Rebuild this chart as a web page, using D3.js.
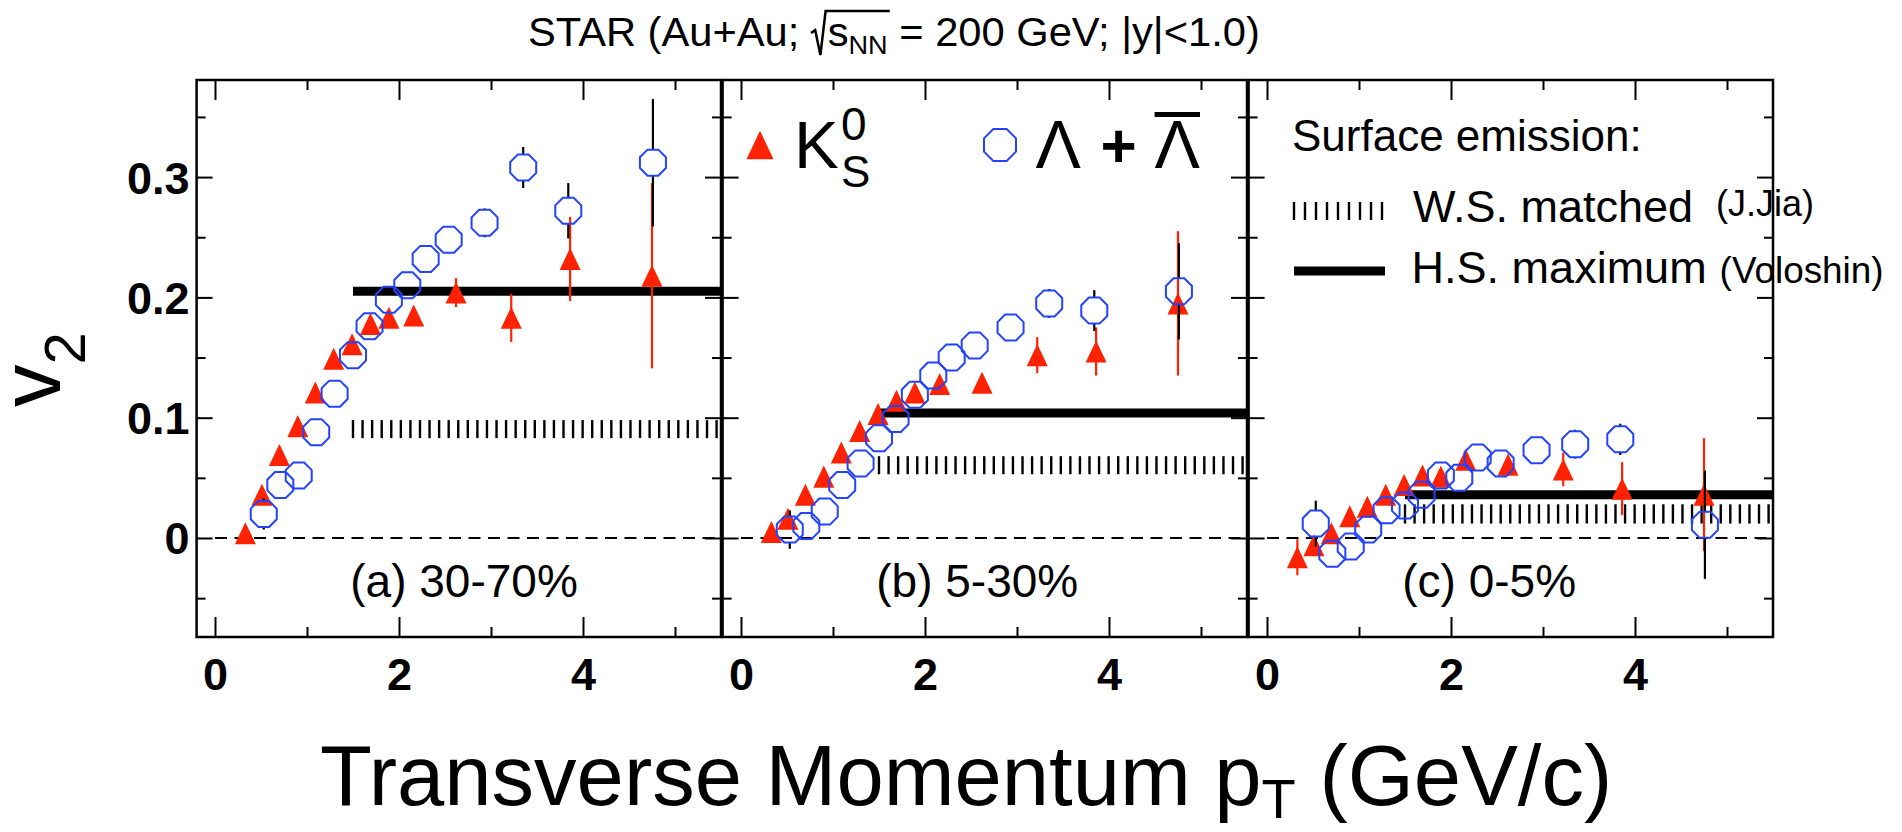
<!DOCTYPE html>
<html><head><meta charset="utf-8">
<script src="https://cdn.jsdelivr.net/npm/d3@7"></script>
<style>
html,body{margin:0;padding:0;background:#fff;}
svg{display:block;}
text{font-family:"Liberation Sans",Arial,Helvetica,sans-serif;fill:#000;white-space:pre;}
</style></head><body>
<svg id="chart" width="1902" height="832"></svg>
<script>
// ---- pT bin centres (GeV/c) ----
const ptK0s    = [0.33,0.51,0.70,0.90,1.09,1.29,1.49,1.69,1.89,2.16,2.62,3.22,3.86,4.75];
const ptLambda = [0.53,0.71,0.91,1.10,1.30,1.50,1.68,1.89,2.09,2.29,2.54,2.93,3.35,3.84,4.76];

// ---- K0s v2 and errors, per centrality ----
const k0sV2_3070  = [0.004,0.036,0.069,0.093,0.121,0.149,0.161,0.178,0.183,0.185,0.204,0.183,0.232,0.218];
const k0sErr_3070 = [0,0,0,0,0,0,0,0,0,0,0.012,0.020,0.035,0.077];
const k0sV2_0530  = [0.005,0.016,0.036,0.051,0.071,0.089,0.103,0.114,0.121,0.128,0.129,0.152,0.155,0.195];
const k0sErr_0530 = [0,0,0,0,0,0,0,0,0,0,0,0.015,0.020,0.060];
const k0sV2_0005  = [-0.016,-0.006,0.004,0.018,0.026,0.036,0.044,0.052,0.051,0.065,0.061,0.057,0.041,0.036];
const k0sErr_0005 = [0.015,0,0,0,0,0,0,0,0,0,0,0.014,0.022,0.047];

// ---- Lambda + anti-Lambda v2 and errors, per centrality ----
const lamV2_3070  = [0.020,0.044,0.052,0.088,0.120,0.152,0.176,0.198,0.210,0.232,0.248,0.262,0.308,0.272,0.312];
const lamErr_3070 = [0.013,0,0,0,0,0,0,0,0,0,0,0.012,0.017,0.023,0.053];
const lamV2_0530  = [0.007,0.010,0.022,0.044,0.062,0.083,0.099,0.119,0.135,0.150,0.160,0.175,0.195,0.189,0.205];
const lamErr_0530 = [0.016,0,0,0,0,0,0,0,0,0,0,0,0.012,0.017,0.040];
const lamV2_0005  = [0.012,-0.013,-0.007,0.007,0.023,0.027,0.036,0.052,0.050,0.067,0.062,0.073,0.078,0.082,0.011];
const lamErr_0005 = [0.019,0,0,0,0,0,0,0,0,0,0,0,0.012,0.013,0.045];

// ---- surface-emission limits per centrality ----
const centralityLabels = ["(a) 30-70%","(b) 5-30%","(c) 0-5%"];
const hsMaximum = [0.205,0.104,0.036];   // hard-sphere maximum
const wsLow     = [0.083,0.053,0.012];   // Woods-Saxon matched band
const wsHigh    = [0.098,0.068,0.028];
const modelPtRange = [1.5,5.5];
const hatchStep = 0.104;

// ---- axis ticks ----
const xMajorTicks = [0,2,4];
const xMinorTicks = [1,3,5];
const yMajorTicks = [0,0.1,0.2,0.3];
const yMinorTicks = [-0.05,0.05,0.15,0.25,0.35];

const panels = [
  {k:k0sV2_3070,ke:k0sErr_3070,l:lamV2_3070,le:lamErr_3070},
  {k:k0sV2_0530,ke:k0sErr_0530,l:lamV2_0530,le:lamErr_0530},
  {k:k0sV2_0005,ke:k0sErr_0005,l:lamV2_0005,le:lamErr_0005}
];

const RED = "#ff2200", BLUE = "#2244ff";
const svg = d3.select("#chart");

const panelW = 524.4, panelH = 557, panelGap = 1.6, left0 = 196.6, top0 = 80;
const x = d3.scaleLinear().domain([-0.2,5.5]).range([0,panelW]);
const y = d3.scaleLinear().domain([-0.0823,0.3807]).range([panelH,0]);

// marker shapes: filled triangle (size = width) and open octagon (size = inradius)
const triangleType = {draw(ctx,s){const h=s*1.05;ctx.moveTo(0,-h/2);ctx.lineTo(s/2,h/2);ctx.lineTo(-s/2,h/2);ctx.closePath();}};
const octagonType = {draw(ctx,s){const R=s/Math.cos(Math.PI/8);for(let i=0;i<8;i++){const a=Math.PI/8+i*Math.PI/4;const px=R*Math.cos(a),py=R*Math.sin(a);if(i)ctx.lineTo(px,py);else ctx.moveTo(px,py);}ctx.closePath();}};
const triSym = d3.symbol().type(triangleType);
const octSym = d3.symbol().type(octagonType);
const TRI_W = 21, OCT_R = 13;

panels.forEach((p,i)=>{
  const g = svg.append("g").attr("transform",`translate(${left0+i*(panelW+panelGap)},${top0})`);

  // W.S. matched band drawn as vertical hatching
  const hatch = d3.range(modelPtRange[0], modelPtRange[1]+1e-9, hatchStep);
  g.append("g").selectAll("line").data(hatch).join("line")
    .attr("x1",d=>x(d)).attr("x2",d=>x(d))
    .attr("y1",y(wsHigh[i])).attr("y2",y(wsLow[i]))
    .attr("stroke","#000").attr("stroke-width",2.4);

  // H.S. maximum
  g.append("line")
    .attr("x1",x(modelPtRange[0])).attr("x2",x(modelPtRange[1]))
    .attr("y1",y(hsMaximum[i])).attr("y2",y(hsMaximum[i]))
    .attr("stroke","#000").attr("stroke-width",9);

  // zero line
  g.append("line")
    .attr("x1",x(0)).attr("x2",x(5.5)).attr("y1",y(0)).attr("y2",y(0))
    .attr("stroke","#000").attr("stroke-width",1.8).attr("stroke-dasharray","12,7.5");

  // K0s: red error bars + filled triangles
  const kd = ptK0s.map((pt,j)=>({pt,v:p.k[j],e:p.ke[j]}));
  g.append("g").selectAll("line").data(kd.filter(d=>d.e>0)).join("line")
    .attr("x1",d=>x(d.pt)).attr("x2",d=>x(d.pt))
    .attr("y1",d=>y(d.v+d.e)).attr("y2",d=>y(d.v-d.e))
    .attr("stroke",RED).attr("stroke-width",2.2);
  g.append("g").selectAll("path").data(kd).join("path")
    .attr("transform",d=>`translate(${x(d.pt)},${y(d.v)})`)
    .attr("d",triSym.size(TRI_W)()).attr("fill",RED);

  // Lambda: black error bars outside the marker + open octagons
  const ld = ptLambda.map((pt,j)=>({pt,v:p.l[j],e:p.le[j]}));
  const segs = [];
  ld.filter(d=>d.e>0).forEach(d=>{
    const yc=y(d.v), yt=y(d.v+d.e), yb=y(d.v-d.e);
    if (yc-OCT_R>yt) segs.push({x:x(d.pt),a:yt,b:yc-OCT_R});
    if (yb>yc+OCT_R) segs.push({x:x(d.pt),a:yc+OCT_R,b:yb});
  });
  g.append("g").selectAll("line").data(segs).join("line")
    .attr("x1",d=>d.x).attr("x2",d=>d.x).attr("y1",d=>d.a).attr("y2",d=>d.b)
    .attr("stroke","#000").attr("stroke-width",2.2);
  g.append("g").selectAll("path").data(ld).join("path")
    .attr("transform",d=>`translate(${x(d.pt)},${y(d.v)})`)
    .attr("d",octSym.size(OCT_R)()).attr("fill","none").attr("stroke",BLUE).attr("stroke-width",2);

  // axes: inward ticks on all four sides
  const clean = a=>a.call(s=>s.select(".domain").remove()).call(s=>s.selectAll(".tick line").attr("stroke","#000").attr("stroke-width",2));
  const bMaj = g.append("g").attr("transform",`translate(0,${panelH})`)
    .call(d3.axisBottom(x).tickValues(xMajorTicks).tickSize(-20).tickFormat(d3.format("d"))).call(clean);
  bMaj.selectAll("text").attr("y",53).attr("dy",null)
    .attr("font-size",45).attr("font-weight","bold").attr("font-family","'Liberation Sans',Arial,sans-serif").attr("fill","#000");
  g.append("g").attr("transform",`translate(0,${panelH})`)
    .call(d3.axisBottom(x).tickValues(xMinorTicks).tickSize(-10).tickFormat("")).call(clean);
  g.append("g").call(d3.axisTop(x).tickValues(xMajorTicks).tickSize(-20).tickFormat("")).call(clean);
  g.append("g").call(d3.axisTop(x).tickValues(xMinorTicks).tickSize(-10).tickFormat("")).call(clean);
  const lMaj = g.append("g")
    .call(d3.axisLeft(y).tickValues(yMajorTicks).tickSize(-16).tickPadding(7)
      .tickFormat(i===0 ? (d=>d===0?"0":d3.format(".1f")(d)) : "")).call(clean);
  lMaj.selectAll("text").attr("dy","0.355em")
    .attr("font-size",45).attr("font-weight","bold").attr("font-family","'Liberation Sans',Arial,sans-serif").attr("fill","#000");
  g.append("g").call(d3.axisLeft(y).tickValues(yMinorTicks).tickSize(-9).tickFormat("")).call(clean);
  g.append("g").attr("transform",`translate(${panelW},0)`)
    .call(d3.axisRight(y).tickValues(yMajorTicks).tickSize(-16).tickFormat("")).call(clean);
  g.append("g").attr("transform",`translate(${panelW},0)`)
    .call(d3.axisRight(y).tickValues(yMinorTicks).tickSize(-9).tickFormat("")).call(clean);

  // frame
  g.append("rect").attr("width",panelW).attr("height",panelH)
    .attr("fill","none").attr("stroke","#000").attr("stroke-width",2.5);

  // centrality label
  g.append("text").attr("x",x(1.47)).attr("y",517).attr("font-size",46).text(centralityLabels[i]);

  p.g = g;
});

// ---- legend: particle species (panel b) ----
{
  const g = panels[1].g;
  g.append("path").attr("transform","translate(37.4,65)").attr("d",triSym.size(27)()).attr("fill",RED);
  g.append("text").attr("x",71.4).attr("y",88).attr("font-size",67).text("K");
  g.append("text").attr("x",118.4).attr("y",60).attr("font-size",46).text("0");
  g.append("text").attr("x",118.4).attr("y",107).attr("font-size",44).text("S");
  g.append("path").attr("transform","translate(277.4,65)").attr("d",octSym.size(16)())
    .attr("fill","none").attr("stroke",BLUE).attr("stroke-width",2);
  const serif = "'Liberation Serif','Times New Roman',serif";
  g.append("text").attr("x",313).attr("y",88).attr("font-size",68).attr("font-family",serif).text("Λ");
  g.append("text").attr("x",378).attr("y",87).attr("font-size",62).attr("font-weight","bold").text("+");
  const lb = g.append("text").attr("x",432).attr("y",88).attr("font-size",68).attr("font-family",serif).text("Λ");
  const w = lb.node().getComputedTextLength();
  g.append("line").attr("x1",432).attr("x2",432+w).attr("y1",34.5).attr("y2",34.5)
    .attr("stroke","#000").attr("stroke-width",5);
}

// ---- legend: surface emission (panel c) ----
{
  const g = panels[2].g;
  g.append("text").attr("x",43.4).attr("y",71).attr("font-size",44).text("Surface emission:");
  g.append("g").selectAll("line").data(d3.range(9)).join("line")
    .attr("x1",d=>45.4+d*11).attr("x2",d=>45.4+d*11).attr("y1",122).attr("y2",140)
    .attr("stroke","#000").attr("stroke-width",2.4);
  g.append("text").attr("x",164.4).attr("y",142).attr("font-size",45).text("W.S. matched");
  g.append("text").attr("x",467.4).attr("y",136).attr("font-size",37)
    .attr("textLength",98).attr("lengthAdjust","spacingAndGlyphs").text("(J.Jia)");
  g.append("line").attr("x1",45.4).attr("x2",136.4).attr("y1",191).attr("y2",191)
    .attr("stroke","#000").attr("stroke-width",9);
  g.append("text").attr("x",163).attr("y",203).attr("font-size",45).text("H.S. maximum");
  g.append("text").attr("x",471).attr("y",203).attr("font-size",37)
    .attr("textLength",164).attr("lengthAdjust","spacingAndGlyphs").text("(Voloshin)");
}

// helper: lay out a run of text pieces left to right
function textRuns(parent, x0, y0, runs){
  let cx = x0;
  runs.forEach(r=>{
    if (r.gap){ r.at = cx; cx += r.gap; return; }
    const t = parent.append("text").attr("x",cx).attr("y",y0+(r.dy||0)).attr("font-size",r.size).text(r.t);
    r.at = cx; r.w = t.node().getComputedTextLength(); cx += r.w;
  });
  return cx;
}

// ---- title with radical sign ----
{
  const runs = [
    {t:"STAR (Au+Au; ",size:40},
    {gap:16},
    {t:"s",size:40},
    {t:"NN",size:26,dy:8},
    {t:" = 200 GeV; |y|<1.0)",size:40}
  ];
  const tg = svg.append("g");
  const end = textRuns(tg, 0, 46, runs);
  const rx = runs[1].at, ex = runs[3].at + runs[3].w + 2;
  tg.append("path")
    .attr("d",`M${rx},${33} L${rx+4},${30} L${rx+9},${55} L${rx+14},${11} L${ex},${11}`)
    .attr("fill","none").attr("stroke","#000").attr("stroke-width",2.4);
  const sx = 732/end;
  tg.attr("transform",`translate(528,0) scale(${sx},1)`);
}

// ---- y-axis title ----
{
  const t = svg.append("text").attr("transform","translate(60,407) rotate(-90)").attr("font-size",85);
  t.append("tspan").text("v");
  t.append("tspan").attr("dy",25).attr("font-size",58).text("2");
}

// ---- x-axis title ----
{
  const runs = [
    {t:"Transverse Momentum p",size:85},
    {t:"T",size:56,dy:13},
    {t:" (GeV/c)",size:85}
  ];
  textRuns(svg.append("g"), 320, 805, runs);
}
</script>
</body></html>
